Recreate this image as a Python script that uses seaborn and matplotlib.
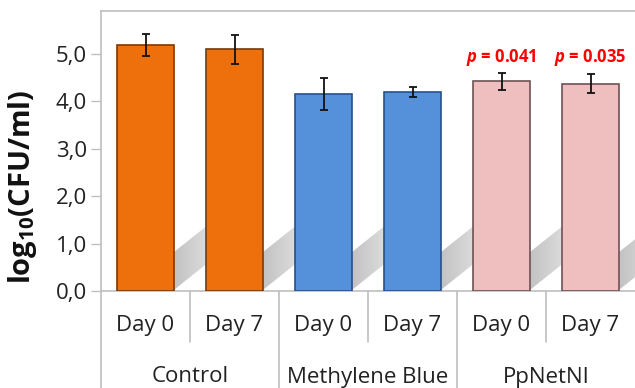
import numpy as np
import pandas as pd
import matplotlib
matplotlib.use("Agg")
import matplotlib.pyplot as plt
import matplotlib.transforms as mtransforms
from matplotlib.patches import Polygon
import seaborn as sns

# ---- data ----
groups = ["Control", "Methylene Blue", "PpNetNI"]
days = ["Day 0", "Day 7"]
values = [5.19, 5.10, 4.16, 4.20, 4.43, 4.37]
errors = [0.23, 0.31, 0.33, 0.11, 0.18, 0.20]
p_labels = [None, None, None, None, "0.041", "0.035"]
colors = ["#EE700C", "#EE700C", "#5591DB", "#5591DB", "#EFBFBF", "#EFBFBF"]
edge_colors = ["#7A3A05", "#7A3A05", "#27508A", "#27508A", "#6E5255", "#6E5255"]

sns.set_theme(style="white")
plt.rcParams["font.family"] = ["Open Sans", "DejaVu Sans"]
plt.rcParams["mathtext.fontset"] = "custom"
plt.rcParams["mathtext.rm"] = "Open Sans:bold"
plt.rcParams["mathtext.bf"] = "Open Sans:bold"
plt.rcParams["mathtext.it"] = "Open Sans:bold:italic"
plt.rcParams["mathtext.default"] = "rm"

keys = [f"{g}|{d}" for g in groups for d in days]
df = pd.DataFrame({"key": keys, "value": values})

fig = plt.figure(figsize=(6.35, 3.88), dpi=100)
ax = fig.add_axes([101 / 635, 97 / 388, 534 / 635, 280 / 388])

bar_w = 0.65
sns.barplot(data=df, x="key", y="value", hue="key", palette=colors, order=keys,
            hue_order=keys, width=bar_w, dodge=False, legend=False, ax=ax,
            saturation=1, zorder=3, errorbar=None)

for i, patch in enumerate(ax.patches):
    patch.set_edgecolor(edge_colors[i])
    patch.set_linewidth(1.2)

ax.set_xlim(-0.5, 5.5)
ax.set_ylim(0, 5.91)

# shadows (Excel-like perspective shadow), fading to the right
L = 0.6
slope = 1.5
thick = 0.8
grad = np.linspace(0.0, 1.0, 64)[None, :]
shadow_cmap = matplotlib.colors.LinearSegmentedColormap.from_list(
    "sh", ["#C2C2C2", "#D6D6D6", "#EFEFEF"])
for i in range(len(values)):
    xr = i + bar_w / 2 - 0.02
    pts = [(xr, 0), (xr + L, slope * L), (xr + L, thick + slope * L), (xr, thick)]
    poly = Polygon(pts, closed=True, facecolor="none", edgecolor="none", transform=ax.transData)
    ax.add_patch(poly)
    im = ax.imshow(grad, cmap=shadow_cmap, extent=(xr, xr + L, 0, thick + slope * L),
                   aspect="auto", origin="lower", zorder=1, interpolation="bilinear")
    im.set_clip_path(poly)

ax.set_xlim(-0.5, 5.5)
ax.set_ylim(0, 5.91)

ax.errorbar(range(len(values)), values, yerr=errors, fmt="none", ecolor="#111111",
            elinewidth=1.3, capsize=3, capthick=1.3, zorder=4)

for i, p in enumerate(p_labels):
    if p:
        ax.text(i, 4.92, rf"$\mathit{{p}}$ = {p}", color="#FF0000", fontsize=12,
                fontweight="bold", ha="center", va="center",
                family=["Open Sans", "DejaVu Sans"])

ax.set_yticks([0, 1, 2, 3, 4, 5])
ax.set_yticklabels(["0,0", "1,0", "2,0", "3,0", "4,0", "5,0"], fontsize=16, color="#222222")
ax.set_xticks(range(6))
ax.set_xticklabels([d for g in groups for d in days], fontsize=16, color="#222222")
ax.tick_params(axis="x", length=0, pad=17)
ax.tick_params(axis="y", length=7, width=1, color="#BFBFBF", direction="out", pad=3, left=True)
ax.set_xlabel("")
ax.set_ylabel(r"log$_{10}$(CFU/ml)", fontsize=21, fontweight="bold", color="#111111")
ax.yaxis.set_label_coords(-0.116, 0.371)

ax.spines["right"].set_visible(False)
for s in ["left", "bottom", "top"]:
    ax.spines[s].set_color("#BFBFBF")
    ax.spines[s].set_linewidth(1.2)

trans = mtransforms.blended_transform_factory(ax.transData, ax.transAxes)
# minor separators
for x in [0.5, 2.5, 4.5]:
    ax.plot([x, x], [0, -51 / 280], transform=trans, color="#BFBFBF", lw=1.2, clip_on=False)
# major separators
for x in [-0.5, 1.5, 3.5]:
    ax.plot([x, x], [0, -97 / 280], transform=trans, color="#BFBFBF", lw=1.2, clip_on=False)
for gi, g in enumerate(groups):
    ax.text(gi * 2 + 0.5, -86 / 280, g, transform=trans, ha="center", va="center",
            fontsize=16, color="#222222")

fig.savefig("out.png", dpi=100)
